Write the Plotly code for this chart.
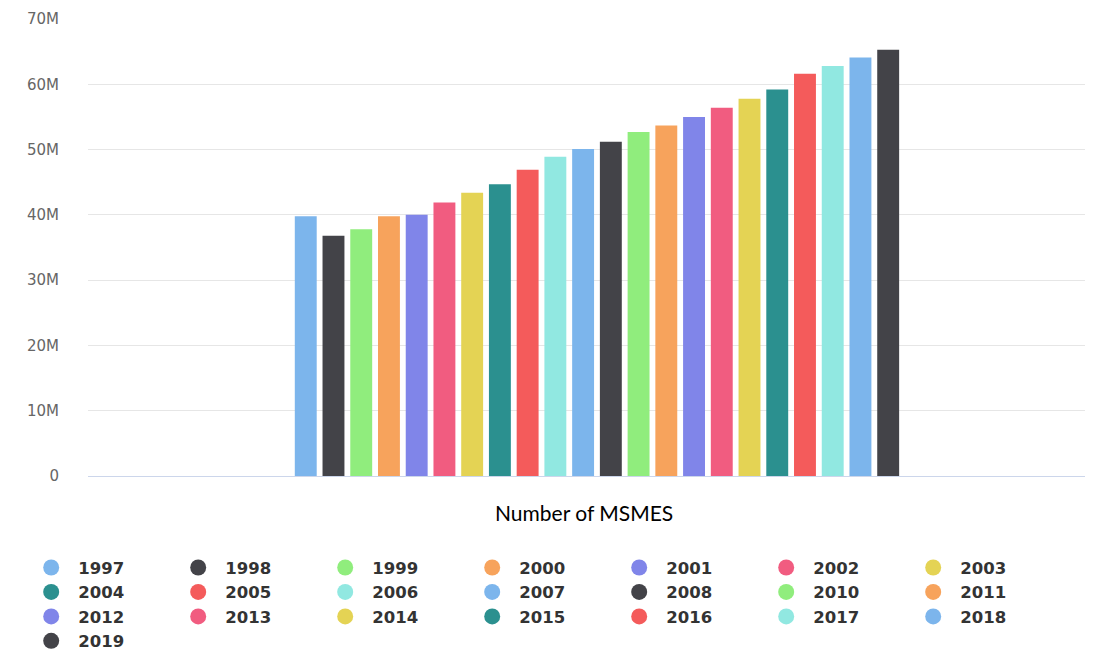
import plotly.graph_objects as go

categories = ["Number of MSMES"]
years = ["1997", "1998", "1999", "2000", "2001", "2002", "2003", "2004", "2005", "2006", "2007",
         "2008", "2010", "2011", "2012", "2013", "2014", "2015", "2016", "2017", "2018", "2019"]
values = [39.8e6, 36.8e6, 37.8e6, 39.8e6, 40.0e6, 41.9e6, 43.4e6, 44.7e6, 46.9e6, 48.9e6, 50.1e6,
          51.2e6, 52.7e6, 53.7e6, 55.0e6, 56.4e6, 57.8e6, 59.2e6, 61.6e6, 62.8e6, 64.1e6, 65.3e6]
palette = ["#7cb5ec", "#434348", "#90ed7d", "#f7a35c", "#8085e9",
           "#f15c80", "#e4d354", "#2b908f", "#f45b5b", "#91e8e1"]
ytick_vals = [0, 10e6, 20e6, 30e6, 40e6, 50e6, 60e6, 70e6]
ytick_text = ["0", "10M", "20M", "30M", "40M", "50M", "60M", "70M"]

fig = go.Figure()
for i, (yr, v) in enumerate(zip(years, values)):
    c = palette[i % len(palette)]
    fig.add_trace(go.Bar(x=categories, y=[v], name=yr, marker=dict(color=c, line=dict(width=0)),
                         showlegend=False, legendgroup=yr))
for i, yr in enumerate(years):
    c = palette[i % len(palette)]
    fig.add_trace(go.Scatter(x=[None], y=[None], mode="markers", name=yr, legendgroup=yr,
                             marker=dict(color=c, size=16, symbol="circle"), showlegend=True))

fig.update_layout(
    width=1098, height=650,
    margin=dict(l=88, r=13, t=19, b=174, autoexpand=False),
    paper_bgcolor="white", plot_bgcolor="white",
    barmode="group", bargap=0.388, bargroupgap=0.21,
    showlegend=True,
    legend=dict(orientation="h", x=-0.064, xanchor="left", y=-0.1625, yanchor="top",
                entrywidth=88, entrywidthmode="pixels", itemwidth=44,
                font=dict(family="DejaVu Sans", size=16.5, color="#333333", weight="bold"),
                traceorder="normal", bgcolor="rgba(0,0,0,0)"),
    xaxis=dict(type="category", range=[-0.5105, 0.4895], showticklabels=False, showgrid=False,
               showline=True, linecolor="#ccd6eb", linewidth=1, ticks="", zeroline=False),
    yaxis=dict(range=[0, 70e6], tickvals=ytick_vals, ticktext=ytick_text,
               showgrid=True, gridcolor="#e6e6e6", gridwidth=1, zeroline=False, showline=False,
               ticks="", ticklabelstandoff=28,
               tickfont=dict(family="DejaVu Sans", size=15, color="#666666")),
    annotations=[dict(text=categories[0], xref="paper", yref="paper", x=0.4975, y=-0.0788,
                      xanchor="center", yanchor="middle", showarrow=False,
                      font=dict(family="Lato", size=21, color="#000000"))],
)

fig.write_html("out.html")
